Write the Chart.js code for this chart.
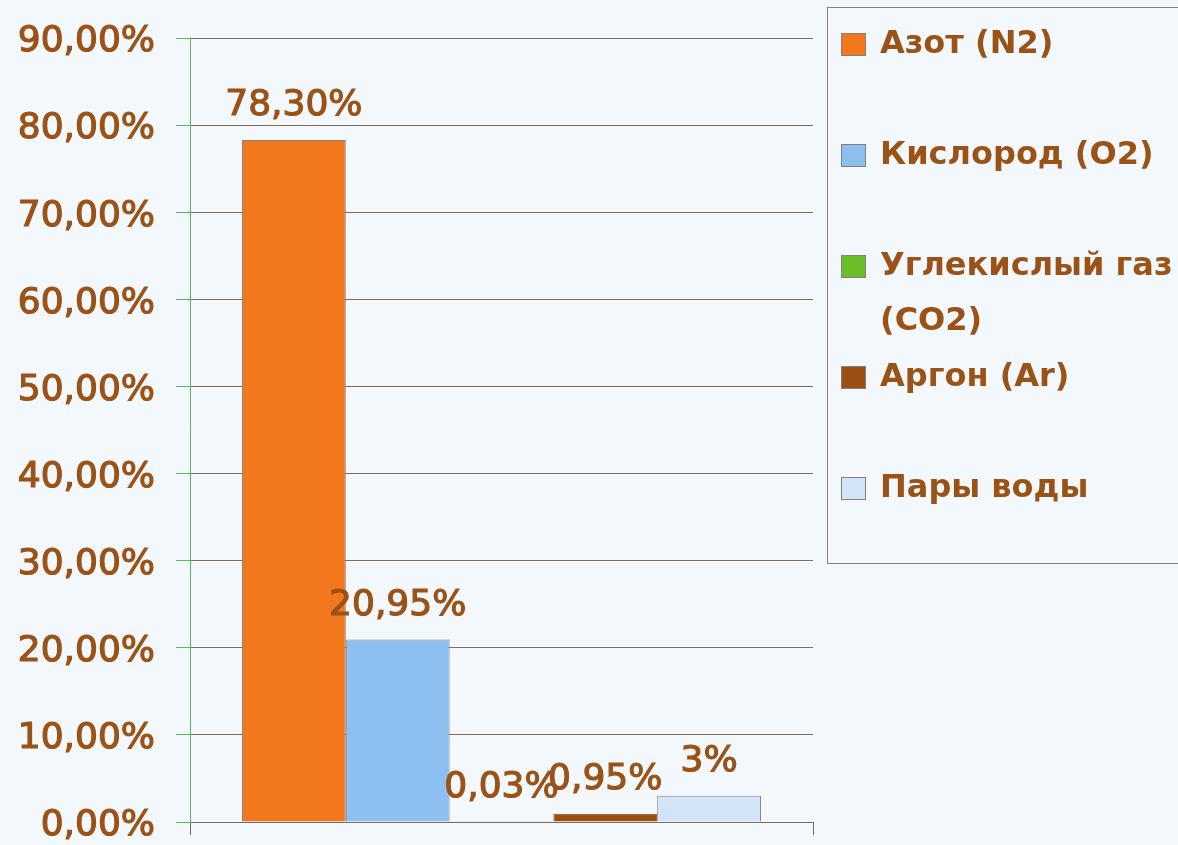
<!DOCTYPE html>
<html>
<head>
<meta charset="utf-8">
<script src="https://cdn.jsdelivr.net/npm/chart.js@4.4.0/dist/chart.umd.min.js"></script>
<style>
  html, body { margin: 0; padding: 0; background: #f3f8fd; }
  #wrap { width: 1178px; height: 845px; }
</style>
</head>
<body>
<div id="wrap"><canvas id="myChart" width="1178" height="845"></canvas></div>
<script>
// data (percent of air)
const gases = ["Азот (N2)", "Кислород (O2)", "Углекислый газ (CO2)", "Аргон (Ar)", "Пары воды"];
const shares = [78.3, 20.95, 0.03, 0.95, 3];
const shareLabels = ["78,30%", "20,95%", "0,03%", "0,95%", "3%"];
const colors = ["#f2771d", "#8dbff0", "#6cbe29", "#9a5013", "#d2e5f8"];

const textColor = "#9a5216";
const gridColor = "#8a6a4e";
const axisGreen = "#5cb85c";

// value labels above each bar
const valueLabels = {
  id: "valueLabels",
  afterDatasetsDraw(chart) {
    const ctx = chart.ctx;
    ctx.save();
    ctx.font = "36px 'DejaVu Sans'";
    ctx.fillStyle = textColor;
    ctx.strokeStyle = textColor;
    ctx.lineWidth = 1.2;
    ctx.textAlign = "center";
    ctx.textBaseline = "alphabetic";
    chart.data.datasets.forEach((ds, i) => {
      const bar = chart.getDatasetMeta(i).data[0];
      ctx.fillText(shareLabels[i], bar.x, bar.y - 25);
      ctx.strokeText(shareLabels[i], bar.x, bar.y - 25);
    });
    ctx.restore();
  }
};

// legend box on the right, with wrapping like the original
const sideLegend = {
  id: "sideLegend",
  afterDraw(chart) {
    const ctx = chart.ctx;
    ctx.save();
    ctx.strokeStyle = "#8a7f78";
    ctx.lineWidth = 1;
    ctx.strokeRect(827.5, 7.5, 420, 556);
    ctx.font = "bold 32px 'DejaVu Sans'";
    ctx.textBaseline = "middle";
    let y = 45;
    chart.data.datasets.forEach((ds) => {
      ctx.fillStyle = ds.backgroundColor;
      ctx.fillRect(841, y - 12, 25, 23);
      ctx.strokeStyle = "#8a7f78";
      ctx.strokeRect(841.5, y - 11.5, 24, 22);
      // wrap words
      const words = ds.label.split(" ");
      const lines = [];
      let line = "";
      words.forEach((w) => {
        const test = line ? line + " " + w : w;
        if (line && ctx.measureText(test).width > 340) {
          lines.push(line);
          line = w;
        } else {
          line = test;
        }
      });
      lines.push(line);
      ctx.fillStyle = textColor;
      lines.forEach((l, k) => ctx.fillText(l, 880, y + k * 55));
      y += 111;
    });
    ctx.restore();
  }
};

const ctx = document.getElementById("myChart").getContext("2d");
new Chart(ctx, {
  type: "bar",
  data: {
    labels: [""],
    datasets: gases.map((g, i) => ({
      label: g,
      data: [shares[i]],
      backgroundColor: colors[i],
      borderColor: i === 3 ? colors[i] : "#8f8278",
      borderWidth: 1,
      categoryPercentage: 0.833,
      barPercentage: 1
    }))
  },
  options: {
    responsive: false,
    animation: false,
    devicePixelRatio: 1,
    layout: { padding: { left: 0, right: 365, top: 38, bottom: 10 } },
    plugins: {
      legend: { display: false },
      tooltip: { enabled: false }
    },
    scales: {
      x: {
        offset: true,
        grid: { offset: true, drawOnChartArea: false, color: "#7d6a5a", tickLength: 13 },
        border: { color: "#7d6a5a" },
        ticks: { display: false },
        afterFit(scale) { scale.height = 13; }
      },
      y: {
        min: 0,
        max: 90,
        ticks: {
          stepSize: 10,
          color: textColor,
          padding: 21,
          labelOffset: 4,
          textStrokeColor: textColor,
          textStrokeWidth: 1.2,
          font: { family: "'DejaVu Sans'", size: 36, lineHeight: 0.1 },
          callback: (v) => v.toFixed(2).replace(".", ",") + "%"
        },
        grid: { color: gridColor, tickColor: axisGreen, tickLength: 14 },
        border: { color: axisGreen },
        afterFit(scale) { scale.width = 190; }
      }
    }
  },
  plugins: [valueLabels, sideLegend]
});
</script>
</body>
</html>
